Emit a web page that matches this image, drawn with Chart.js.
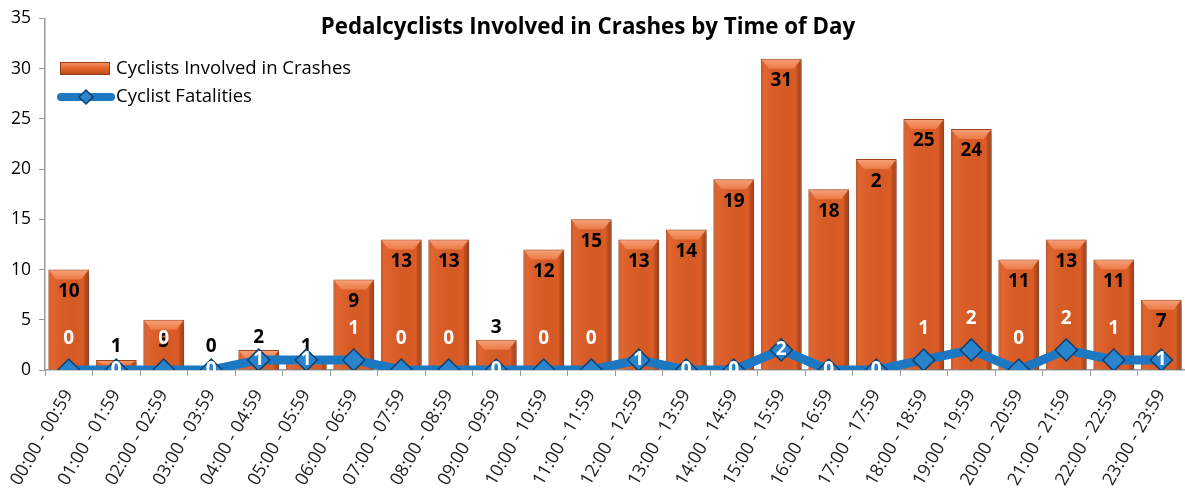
<html>
<head>
  <script src="https://cdn.jsdelivr.net/npm/chart.js@4.4.0/dist/chart.umd.min.js"></script>
  <style>
    body { margin: 0; background: #fff; }
    #wrap { width: 1185px; height: 493px; }
  </style>
</head>
<body>
  <div id="wrap"><canvas id="chart"></canvas></div>
  <script>
    // data
    var hours = ["00:00 - 00:59", "01:00 - 01:59", "02:00 - 02:59", "03:00 - 03:59", "04:00 - 04:59", "05:00 - 05:59",
                 "06:00 - 06:59", "07:00 - 07:59", "08:00 - 08:59", "09:00 - 09:59", "10:00 - 10:59", "11:00 - 11:59",
                 "12:00 - 12:59", "13:00 - 13:59", "14:00 - 14:59", "15:00 - 15:59", "16:00 - 16:59", "17:00 - 17:59",
                 "18:00 - 18:59", "19:00 - 19:59", "20:00 - 20:59", "21:00 - 21:59", "22:00 - 22:59", "23:00 - 23:59"];
    var crashes = [10, 1, 5, 0, 2, 1, 9, 13, 13, 3, 12, 15, 13, 14, 19, 31, 18, 21, 25, 24, 11, 13, 11, 7];
    // the label on the 17:00 bar reads "2" in the original
    var crashLabels = ["10", "1", "5", "0", "2", "1", "9", "13", "13", "3", "12", "15", "13", "14", "19", "31", "18", "2", "25", "24", "11", "13", "11", "7"];
    var fatalities = [0, 0, 0, 0, 1, 1, 1, 0, 0, 0, 0, 0, 1, 0, 0, 2, 0, 0, 1, 2, 0, 2, 1, 1];
    var yTicks = [0, 5, 10, 15, 20, 25, 30, 35];

    // where each fatality label sits: 'a' above the marker, 'c' on it
    var fatalPos = ['a','c','a','c','c','c','a','a','a','c','a','a','c','c','c','c','c','c','a','a','a','a','a','c'];

    var FONT = "'Open Sans', Lato, sans-serif";
    var BLUE = "#1c78c0";

    var labelsPlugin = {
      id: 'labels',
      beforeDatasetDraw: function(chart, args) {
        if (args.index === 0) {
          var ctx = chart.ctx;
          ctx.save();
          ctx.shadowColor = "rgba(0,0,0,0.35)";
          ctx.shadowOffsetX = 3;
          ctx.shadowOffsetY = 2;
          ctx.shadowBlur = 4;
        }
      },
      afterDatasetDraw: function(chart, args) {
        var ctx = chart.ctx;
        if (args.index === 0) {
          ctx.restore();
          var meta = chart.getDatasetMeta(0);
          var base = chart.scales.y.getPixelForValue(0);
          meta.data.forEach(function(bar, i) {
            var left = bar.x - bar.width / 2, right = bar.x + bar.width / 2, top = bar.y;
            ctx.save();
            // darker sides
            if (base - top > 2) {
              var sg = ctx.createLinearGradient(left, 0, right, 0);
              sg.addColorStop(0, "rgba(150,50,10,0.55)");
              sg.addColorStop(0.1, "rgba(255,150,100,0.15)");
              sg.addColorStop(0.85, "rgba(0,0,0,0)");
              sg.addColorStop(1, "rgba(120,40,10,0.5)");
              ctx.fillStyle = sg;
              ctx.fillRect(left + 1, top + 1, right - left - 2, base - top - 1);
            }
            // bevel on the top of the bar
            if (base - top > 4) {
              var bh = Math.min(10, (base - top) / 2);
              var g = ctx.createLinearGradient(0, top, 0, top + bh);
              g.addColorStop(0, "#f6a27a");
              g.addColorStop(1, "#ec7a45");
              ctx.fillStyle = g;
              ctx.beginPath();
              ctx.moveTo(left + 1, top + 1);
              ctx.lineTo(right - 1, top + 1);
              ctx.lineTo(right - 8, top + bh);
              ctx.lineTo(left + 8, top + bh);
              ctx.closePath();
              ctx.fill();
            }
            ctx.restore();
          });
          ctx.save();
          ctx.font = "bold 19px " + FONT;
          ctx.fillStyle = "#000";
          ctx.textAlign = "center";
          ctx.textBaseline = "middle";
          meta.data.forEach(function(bar, i) {
            var y;
            if (crashes[i] > 4) y = bar.y + 22;
            else y = Math.min(bar.y - 12, base - 23);
            ctx.fillText(crashLabels[i], bar.x, y);
          });
          ctx.restore();
        }
      },
      afterDatasetsDraw: function(chart) {
        var ctx = chart.ctx;
        var meta = chart.getDatasetMeta(1);
        ctx.save();
        ctx.font = "bold 19px " + FONT;
        ctx.fillStyle = "#fff";
        ctx.textAlign = "center";
        ctx.textBaseline = "middle";
        meta.data.forEach(function(pt, i) {
          var y = fatalPos[i] === 'a' ? pt.y - 31 : pt.y;
          ctx.fillText(String(fatalities[i]), pt.x, y);
        });
        ctx.restore();
      },
      afterDraw: function(chart) {
        var ctx = chart.ctx;
        ctx.save();
        // title
        ctx.font = "bold 22.3px " + FONT;
        ctx.fillStyle = "#000";
        ctx.textAlign = "center";
        ctx.textBaseline = "middle";
        ctx.fillText("Pedalcyclists Involved in Crashes by Time of Day", 588, 28);
        // legend
        var g = ctx.createLinearGradient(0, 62, 0, 75);
        g.addColorStop(0, "#f4976a");
        g.addColorStop(0.5, "#e0642c");
        g.addColorStop(1, "#b8481a");
        ctx.fillStyle = g;
        ctx.fillRect(60, 62, 50, 13);
        ctx.strokeStyle = "#9c3c14";
        ctx.lineWidth = 1;
        ctx.strokeRect(60.5, 62.5, 49, 12);
        ctx.strokeStyle = BLUE;
        ctx.lineWidth = 8;
        ctx.lineCap = "round";
        ctx.beginPath();
        ctx.moveTo(61, 97);
        ctx.lineTo(111, 97);
        ctx.stroke();
        ctx.fillStyle = "#2a84cc";
        ctx.strokeStyle = "#0c3f6e";
        ctx.lineWidth = 1.5;
        ctx.beginPath();
        ctx.moveTo(86, 90); ctx.lineTo(93, 97); ctx.lineTo(86, 104); ctx.lineTo(79, 97);
        ctx.closePath();
        ctx.fill();
        ctx.stroke();
        ctx.font = "18.5px " + FONT;
        ctx.fillStyle = "#000";
        ctx.textAlign = "left";
        ctx.fillText("Cyclists Involved in Crashes", 116, 69);
        ctx.fillText("Cyclist Fatalities", 116, 97);
        ctx.restore();
      }
    };

    new Chart(document.getElementById("chart"), {
      data: {
        labels: hours,
        datasets: [
          {
            type: 'bar',
            label: "Cyclists Involved in Crashes",
            data: crashes,
            order: 2,
            backgroundColor: "#dc5c26",
            borderColor: "#a6461c",
            borderWidth: 1,
            barPercentage: 0.86,
            categoryPercentage: 1
          },
          {
            type: 'line',
            label: "Cyclist Fatalities",
            data: fatalities,
            order: 1,
            borderColor: BLUE,
            borderWidth: 9,
            pointStyle: 'rectRot',
            pointRadius: 11,
            pointBackgroundColor: "#2a84cc",
            pointBorderColor: "#0c3f6e",
            pointBorderWidth: 1.5,
            tension: 0
          }
        ]
      },
      options: {
        responsive: true,
        maintainAspectRatio: false,
        animation: false,
        events: [],
        layout: { autoPadding: false, padding: { top: 15, right: 0, left: 0, bottom: 0 } },
        plugins: {
          legend: { display: false },
          title: { display: false },
          tooltip: { enabled: false }
        },
        scales: {
          x: {
            offset: true,
            grid: { display: true, drawOnChartArea: false, offset: true, tickLength: 6, color: "#999" },
            border: { color: "#999", width: 1.5 },
            ticks: {
              minRotation: 60, maxRotation: 60,
              font: { family: FONT, size: 18 },
              color: "#222",
              padding: 10,
              autoSkip: false
            },
            afterFit: function(s) { s.height = 123; s.paddingLeft = 0; s.paddingRight = 0; }
          },
          y: {
            min: 0, max: 35,
            afterBuildTicks: function(s) { s.ticks = yTicks.map(function(v) { return { value: v }; }); },
            grid: { display: true, drawOnChartArea: false, tickLength: 6, color: "#999" },
            border: { color: "#999", width: 1.5 },
            ticks: {
              font: { family: FONT, size: 17.5 },
              color: "#000",
              padding: 8
            },
            afterFit: function(s) { s.width = 45; }
          }
        }
      },
      plugins: [labelsPlugin]
    });
  </script>
</body>
</html>
